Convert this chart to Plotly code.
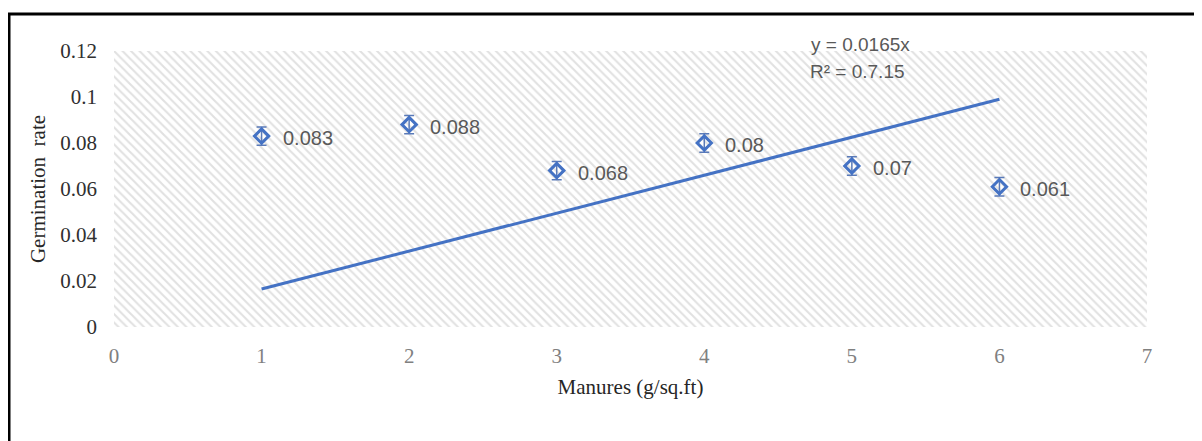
import plotly.graph_objects as go

manure = [1, 2, 3, 4, 5, 6]
germination = [0.083, 0.088, 0.068, 0.08, 0.07, 0.061]
labels = ["0.083", "0.088", "0.068", "0.08", "0.07", "0.061"]
err = [0.004, 0.004, 0.004, 0.004, 0.004, 0.004]
slope = 0.0165
trend_x = [1, 6]
trend_y = [slope * v for v in trend_x]
x_ticks = [0, 1, 2, 3, 4, 5, 6, 7]
y_ticks = [0, 0.02, 0.04, 0.06, 0.08, 0.1, 0.12]
y_tick_text = ["0", "0.02", "0.04", "0.06", "0.08", "0.1", "0.12"]

blue = "#4472C4"
fig = go.Figure()

# hatched plot-area background
fig.add_trace(go.Scatter(
    x=[0, 7, 7, 0, 0], y=[0, 0, 0.12, 0.12, 0], mode="none", fill="toself",
    fillcolor="rgba(0,0,0,0)",
    fillpattern=dict(shape="\\", fgcolor="#c4c4c4", bgcolor="white", size=6, solidity=0.35),
    hoverinfo="skip", showlegend=False))

fig.add_trace(go.Scatter(
    x=trend_x, y=trend_y, mode="lines", line=dict(color=blue, width=3),
    showlegend=False))

fig.add_trace(go.Scatter(
    x=manure, y=germination, mode="markers",
    marker=dict(symbol="diamond-open", size=11, color=blue, line=dict(width=3, color=blue)),
    error_y=dict(type="data", array=err, visible=True, color="#5a7ab8", thickness=1.5, width=5),
    showlegend=False))

for xv, yv, t in zip(manure, germination, labels):
    fig.add_annotation(x=xv, y=yv, text=t, showarrow=False, xanchor="left", yanchor="middle",
                       xshift=19, yshift=-2,
                       font=dict(family="Liberation Sans, Arial", size=20, color="#595959"))

OFF = 8  # page body margin
W, H = 1202 - OFF, 441 - OFF
L, R, T, B = 114 - OFF, 55, 51 - OFF, 114
pw, ph = W - L - R, H - T - B

def px(xp):
    return (xp - OFF - L) / pw

def py(yp):
    return (H - B - (yp - OFF)) / ph

fig.add_annotation(x=px(860), y=py(45), xref="paper", yref="paper", text="y = 0.0165x",
                   xanchor="center", yanchor="middle", showarrow=False,
                   font=dict(family="Liberation Sans, Arial", size=19, color="#595959"))
fig.add_annotation(x=px(857), y=py(71), xref="paper", yref="paper", text="R² = 0.7.15",
                   xanchor="center", yanchor="middle", showarrow=False,
                   font=dict(family="Liberation Sans, Arial", size=19, color="#595959"))

# outer black frame
fig.add_shape(type="rect", xref="paper", yref="paper",
              x0=px(9), y0=py(470), x1=px(1230), y1=py(14),
              line=dict(color="black", width=3), fillcolor="rgba(0,0,0,0)", layer="above")

fig.update_layout(
    width=W, height=H, margin=dict(l=L, r=R, t=T, b=B),
    paper_bgcolor="white", plot_bgcolor="white",
    xaxis=dict(range=[0, 7], tickvals=x_ticks, showgrid=True, gridcolor="#d9d9d9",
               zeroline=False, showline=False, ticks="", ticklabelstandoff=14,
               tickfont=dict(family="Liberation Serif, Times New Roman", size=21, color="#808080"),
               title=dict(text="Manures (g/sq.ft)", standoff=12,
                          font=dict(family="Liberation Serif, Times New Roman", size=21, color="#262626"))),
    yaxis=dict(range=[0, 0.12], tickvals=y_ticks, ticktext=y_tick_text, showgrid=True,
               gridcolor="#d9d9d9", zeroline=False, showline=False, ticks="", ticklabelstandoff=16,
               tickfont=dict(family="Liberation Serif, Times New Roman", size=21, color="#303030"),
               title=dict(text="Germination  rate", standoff=8,
                          font=dict(family="Liberation Serif, Times New Roman", size=21, color="#262626"))),
)

fig.write_html("out.html")
